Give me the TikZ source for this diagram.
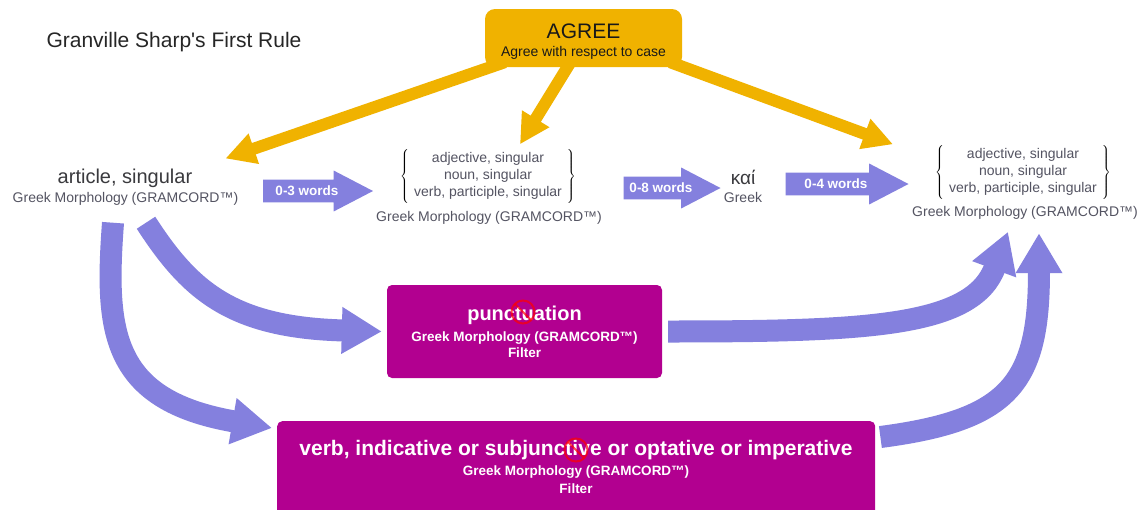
\documentclass[tikz,border=0pt]{standalone}
\usepackage{fontspec}
\setmainfont[Ligatures=TeXOff]{Liberation Sans}
\usetikzlibrary{shapes.arrows, arrows.meta, positioning, calc, backgrounds}
\definecolor{cGold}{RGB}{240,178,0}
\definecolor{cViolet}{RGB}{132,128,222}
\definecolor{cMagenta}{RGB}{178,0,144}
\definecolor{cInk}{RGB}{58,58,62}
\definecolor{cSlate}{RGB}{84,84,98}
\newcommand{\fsize}[2]{\fontsize{#1}{#2}\selectfont}
\newcommand{\choicelist}{$\left\{\hspace{5pt}{\color{cSlate}\begin{tabular}{@{}c@{}}\rule{0pt}{14pt}adjective, singular\\ noun, singular\\ verb, participle, singular\rule[-7pt]{0pt}{7pt}\end{tabular}}\hspace{5pt}\right\}$}
\tikzset{
	agreebox/.style ={rectangle, rounded corners=10pt, fill=cGold, inner sep=0pt},
	filterbox/.style={rectangle, rounded corners=5pt, fill=cMagenta, text=white, font=\bfseries\fsize{13.5}{16}, align=center, inner sep=0pt},
	morph/.style    ={text=cInk, font=\fsize{20}{24}, inner sep=0pt},
	source/.style   ={text=cSlate, font=\fsize{14}{17}, inner sep=0pt},
	choices/.style  ={text=black, font=\fsize{14}{17}, inner sep=0pt},
	wordarrow/.style={single arrow, single arrow head extend=9pt, single arrow tip angle=55, fill=cViolet, text=white, font=\bfseries\fsize{13.5}{13.5}, text height=9.5pt, text depth=0pt, inner ysep=6.5pt, inner xsep=2pt},
	% connectors
	agreearrow/.style={-{Triangle[width=30pt,length=30pt]}, line width=12pt, cGold},
	flow/.style     ={-{Triangle[width=44pt,length=40pt]}, line width=22pt, cViolet},
	nosign/.style   ={circle, draw=red, line width=2pt, minimum size=23pt, inner sep=0pt, opacity=0.7,
		path picture={\draw[red, line width=2pt] (path picture bounding box.north west) -- (path picture bounding box.south east);}},
}
\begin{document}
\begin{tikzpicture}[x=1pt, y=-1pt]
	\useasboundingbox (0,0) rectangle (1141,509);
	\node[font=\fsize{21}{21}, text=black!85, inner sep=0pt] (title) at (174,42) {Granville Sharp's First Rule};
	% agreement box
	\node[agreebox, minimum width=197pt, minimum height=58pt] (agree) at (583.5,38) {};
	\node[align=center, inner sep=0pt, text=black!90] (agreetext) at (583.5,42) {\fsize{21}{21}AGREE\\[6pt]\fsize{14}{14}Agree with respect to case};
	% morphology
	\node[morph] (article) at (125,178) {article, singular};
	\node[source] (artsrc) at (125.5,199) {Greek Morphology (GRAMCORD™)};
	\node[choices] (midset) at (488,176) {\choicelist};
	\node[source] (midsrc) at (489,218) {Greek Morphology (GRAMCORD™)};
	\node[morph, font=\fsize{19}{19}] (kai) at (743,177) {καί};
	\node[source] (kaisrc) at (743,197) {Greek};
	\node[choices] (rightset) at (1023,172) {\choicelist};
	\node[source] (rightsrc) at (1025,213) {Greek Morphology (GRAMCORD™)};
	% word gaps
	\node[wordarrow, minimum height=110pt] (w03) at (307,191) {0-3 words};
	\node[wordarrow, minimum height=97pt] (w08) at (661,188) {0-8 words};
	\node[wordarrow, minimum height=123pt] (w04) at (836,184) {0-4 words};
	% filters
	\node[filterbox, minimum width=275pt, minimum height=93pt] (punct) at (524.5,331.5) {{\fsize{20}{20}punctuation}\\[5pt]Greek Morphology (GRAMCORD™)\\Filter};
	\node[filterbox, minimum width=598pt, minimum height=110pt, anchor=north west] (verb) at (277,421) {};
	\node[text=white, font=\bfseries\fsize{13.5}{18}, align=center, inner sep=0pt] (verbtext) at (576,467) {{\fsize{21}{21}verb, indicative or subjunctive or optative or imperative}\\[2pt]Greek Morphology (GRAMCORD™)\\Filter};
	\node[nosign] (nopunct) at (523,312) {};
	\node[nosign] (noverb) at (576,450) {};
	\begin{scope}[on background layer]
		\fill[white] (0,0) rectangle (1141,509);
		\draw[agreearrow] ([xshift=20pt,yshift=5pt]agree.south west) -- ([xshift=33pt,yshift=10pt]article.north east);
		\draw[agreearrow] ([xshift=-13pt,yshift=5pt]agree.south) -- ([xshift=32pt,yshift=4pt]midset.north);
		\draw[agreearrow] ([xshift=-12pt,yshift=5pt]agree.south east) -- ([xshift=-42pt]rightset.north west);
	\end{scope}
	\draw[flow] ([xshift=-12.5pt,yshift=-17pt]artsrc.south) .. controls +(-8,108) and +(-162,-28) .. ([xshift=-5pt,yshift=-7pt]verb.north west);
	\draw[flow] ([xshift=20.5pt,yshift=-17pt]artsrc.south) .. controls +(44,68) and +(-150,-4) .. ([xshift=-5pt]punct.west);
	\draw[flow] ([xshift=6pt]punct.east) .. controls +(200,0) and +(-35,95) .. ([xshift=-17pt,yshift=-12pt]rightsrc.south);
	\draw[flow] ([xshift=5pt,yshift=-16pt]verb.north east) .. controls +(130,-17) and +(0,150) .. ([xshift=14pt,yshift=-13.5pt]rightsrc.south);
\end{tikzpicture}
\end{document}
